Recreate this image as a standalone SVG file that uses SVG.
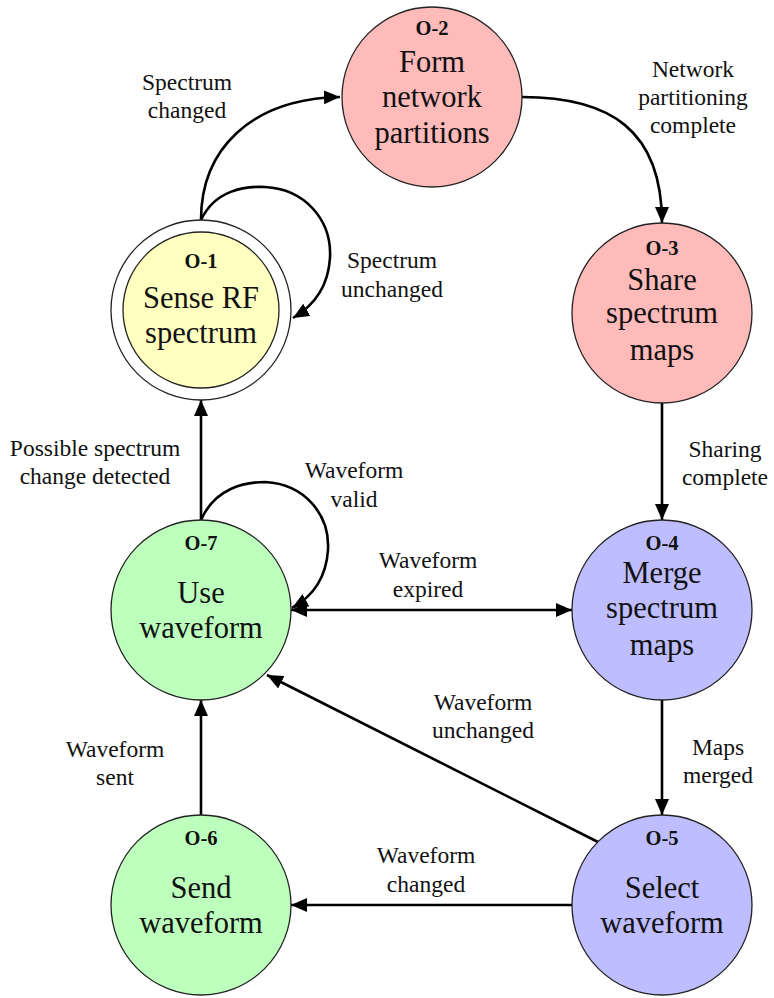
<svg xmlns="http://www.w3.org/2000/svg" width="774" height="998" viewBox="0 0 774 998">
<defs>
<marker id="ah" markerUnits="userSpaceOnUse" markerWidth="18" markerHeight="16" refX="16" refY="7" orient="auto-start-reverse">
<path d="M0,0 L16,7 L0,14 Z" fill="#000"/>
</marker>
<style>
.node{stroke:#222;stroke-width:1.3}
.pink{fill:#FFBABA}.yellow{fill:#FFFFC0}.green{fill:#BDFFBD}.blue{fill:#BDBDFF}
text{font-family:'Liberation Serif','Times New Roman','DejaVu Serif',serif;text-anchor:middle;fill:#111}
.id{font-weight:bold;font-size:20.5px}
.nt{font-size:30.5px}
.lb{font-size:23.5px}
.edge{fill:none;stroke:#000;stroke-width:2.6}
</style>
</defs>
<rect width="774" height="998" fill="#fff"/>
<g id="connectors">
<path class="edge" d="M201,220 C201,150 250,99 340,97" marker-end="url(#ah)"/>
<path class="edge" d="M201,220 C215,190 245,186 265,187 C305,189 332,220 330,258 C328,290 310,308 293,318" marker-end="url(#ah)"/>
<path class="edge" d="M522,97 C610,97 662,130 662,223" marker-end="url(#ah)"/>
<path class="edge" d="M662,403 L662,520" marker-end="url(#ah)"/>
<path class="edge" d="M662,700 L662,815" marker-end="url(#ah)"/>
<path class="edge" d="M572,905 L291,905" marker-end="url(#ah)"/>
<path class="edge" d="M598,842 L267,675" marker-end="url(#ah)"/>
<path class="edge" d="M201,815 L201,700" marker-end="url(#ah)"/>
<path class="edge" d="M291,610 L572,610" marker-start="url(#ah)" marker-end="url(#ah)"/>
<path class="edge" d="M201,520 C215,488 245,482 265,482 C305,484 330,515 328,550 C326,580 310,598 292,608" marker-end="url(#ah)"/>
<path class="edge" d="M201,520 L201,400" marker-end="url(#ah)"/>
</g>
<g id="labels">
<text class="lb" x="187" y="90">Spectrum</text><text class="lb" x="187" y="118">changed</text>
<text class="lb" x="693" y="77">Network</text><text class="lb" x="693" y="105">partitioning</text><text class="lb" x="693" y="133">complete</text>
<text class="lb" x="392" y="268">Spectrum</text><text class="lb" x="392" y="297">unchanged</text>
<text class="lb" x="95" y="456">Possible spectrum</text><text class="lb" x="95" y="484">change detected</text>
<text class="lb" x="354" y="478">Waveform</text><text class="lb" x="354" y="507">valid</text>
<text class="lb" x="428" y="568">Waveform</text><text class="lb" x="428" y="597">expired</text>
<text class="lb" x="725" y="457">Sharing</text><text class="lb" x="725" y="485">complete</text>
<text class="lb" x="718" y="755">Maps</text><text class="lb" x="718" y="783">merged</text>
<text class="lb" x="483" y="710">Waveform</text><text class="lb" x="483" y="738">unchanged</text>
<text class="lb" x="115" y="757">Waveform</text><text class="lb" x="115" y="785">sent</text>
<text class="lb" x="426" y="863">Waveform</text><text class="lb" x="426" y="892">changed</text>
</g>
<g id="O-1">
<circle cx="201" cy="310" r="90" fill="#fff" class="node"/>
<circle cx="201" cy="310" r="78" class="node yellow"/>
<text class="id" x="201" y="268">O-1</text>
<text class="nt" x="201" y="308">Sense RF</text>
<text class="nt" x="201" y="343">spectrum</text>
</g>
<g id="O-2">
<circle cx="432" cy="97" r="90" class="node pink"/>
<text class="id" x="432" y="35">O-2</text>
<text class="nt" x="432" y="72">Form</text>
<text class="nt" x="432" y="107">network</text>
<text class="nt" x="432" y="143">partitions</text>
</g>
<g id="O-3">
<circle cx="662" cy="313" r="90" class="node pink"/>
<text class="id" x="662" y="255">O-3</text>
<text class="nt" x="662" y="290">Share</text>
<text class="nt" x="662" y="323">spectrum</text>
<text class="nt" x="662" y="360">maps</text>
</g>
<g id="O-4">
<circle cx="662" cy="610" r="90" class="node blue"/>
<text class="id" x="662" y="550">O-4</text>
<text class="nt" x="662" y="583">Merge</text>
<text class="nt" x="662" y="618">spectrum</text>
<text class="nt" x="662" y="655">maps</text>
</g>
<g id="O-5">
<circle cx="662" cy="905" r="90" class="node blue"/>
<text class="id" x="662" y="845">O-5</text>
<text class="nt" x="662" y="898">Select</text>
<text class="nt" x="662" y="933">waveform</text>
</g>
<g id="O-6">
<circle cx="201" cy="905" r="90" class="node green"/>
<text class="id" x="201" y="845">O-6</text>
<text class="nt" x="201" y="898">Send</text>
<text class="nt" x="201" y="933">waveform</text>
</g>
<g id="O-7">
<circle cx="201" cy="610" r="90" class="node green"/>
<text class="id" x="201" y="550">O-7</text>
<text class="nt" x="201" y="603">Use</text>
<text class="nt" x="201" y="638">waveform</text>
</g>
</svg>
